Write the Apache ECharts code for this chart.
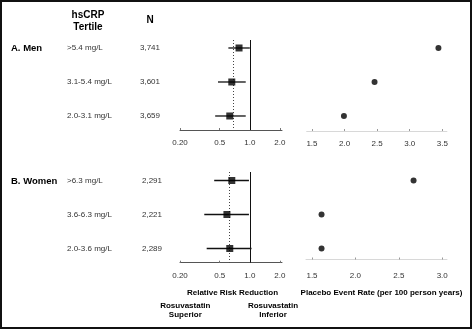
<!DOCTYPE html>
<html><head><meta charset="utf-8">
<script src="https://cdn.jsdelivr.net/npm/echarts@6/dist/echarts.min.js"></script>
<style>html,body{margin:0;padding:0;background:#fff}#c{width:473px;height:329px}</style>
</head><body><div id="c"></div>
<script>
// ---- data ----
const menTertiles = ['>5.4 mg/L', '3.1-5.4 mg/L', '2.0-3.1 mg/L'];
const menN = ['3,741', '3,601', '3,659'];
const menRR = [0.78, 0.66, 0.63];
const menLow = [0.61, 0.48, 0.45];
const menHigh = [1.00, 0.91, 0.91];
const menOverall = 0.69;
const menPlacebo = [3.44, 2.46, 1.99];

const womenTertiles = ['>6.3 mg/L', '3.6-6.3 mg/L', '2.0-3.6 mg/L'];
const womenN = ['2,291', '2,221', '2,289'];
const womenRR = [0.66, 0.59, 0.63];
const womenLow = [0.44, 0.35, 0.37];
const womenHigh = [0.98, 0.98, 1.04];
const womenOverall = 0.62;
const womenPlacebo = [2.67, 1.61, 1.61];

const forestTicks = [0.2, 0.5, 1.0, 2.0];
const forestTickLabels = ['0.20', '0.5', '1.0', '2.0'];
const menPlaceboTicks = [1.5, 2.0, 2.5, 3.0, 3.5];
const womenPlaceboTicks = [1.5, 2.0, 2.5, 3.0];

// ---- chart ----
const FONT = '"Liberation Sans", Arial, Helvetica, sans-serif';
const chart = echarts.init(document.getElementById('c'), null, {renderer: 'canvas'});

function forestLabel(v) {
  let best = 0, bd = Infinity;
  forestTicks.forEach((t, i) => { const d = Math.abs(Math.log(t) - Math.log(v)); if (d < bd) { bd = d; best = i; } });
  return forestTickLabels[best];
}

function forestX(gi) {
  return {
    type: 'log', logBase: 10, gridIndex: gi, min: 0.2, max: 2.1,
    axisLine: {show: true, onZero: false, lineStyle: {color: '#555', width: 1}},
    axisTick: {show: true, inside: true, length: 2, lineStyle: {color: '#777'}, customValues: forestTicks},
    axisLabel: {show: true, customValues: forestTicks, formatter: forestLabel, fontSize: 8, color: '#333', fontFamily: FONT, margin: 9},
    splitLine: {show: false}, minorTick: {show: false}
  };
}
function placeboX(gi, min, max, ticks, margin) {
  return {
    type: 'value', gridIndex: gi, min: min, max: max,
    axisLine: {show: true, onZero: false, lineStyle: {color: '#d8d8d8', width: 1}},
    axisTick: {show: true, inside: true, length: 2, lineStyle: {color: '#999'}, customValues: ticks},
    axisLabel: {show: true, customValues: ticks, formatter: v => v.toFixed(1), fontSize: 8, color: '#333', fontFamily: FONT, margin: margin},
    splitLine: {show: false}
  };
}
function rowY(gi, min, max) {
  return {type: 'value', gridIndex: gi, inverse: true, min: min, max: max, show: false};
}

function ciSeries(ai, low, high) {
  return {
    type: 'custom', xAxisIndex: ai, yAxisIndex: ai, clip: false,
    data: low.map((l, i) => [l, high[i], i]),
    renderItem: (params, api) => {
      const a = api.coord([api.value(0), api.value(2)]);
      const b = api.coord([api.value(1), api.value(2)]);
      return {type: 'line', shape: {x1: a[0], y1: a[1], x2: b[0], y2: b[1]}, style: {stroke: '#111', lineWidth: 1.3}};
    },
    z: 3
  };
}
function rrSeries(ai, rr, overall) {
  return {
    type: 'scatter', xAxisIndex: ai, yAxisIndex: ai, symbol: 'rect', symbolSize: 7,
    itemStyle: {color: '#000'},
    data: rr.map((v, i) => [v, i]),
    z: 5,
    markLine: {
      silent: true, symbol: ['none', 'none'], label: {show: false},
      data: [
        {xAxis: 1.0, lineStyle: {color: '#111', width: 1, type: 'solid'}},
        {xAxis: overall, lineStyle: {color: '#444', width: 1, type: [1, 2]}}
      ]
    }
  };
}
function labelSeries(ai, tertiles, ns, xT, xN) {
  return {
    type: 'custom', xAxisIndex: ai, yAxisIndex: ai, clip: false,
    data: tertiles.map((t, i) => [1, i]),
    renderItem: (params, api) => {
      const p = api.coord([1, api.value(1)]);
      const idx = params.dataIndex;
      return {type: 'group', children: [
        {type: 'text', style: {x: xT, y: p[1], text: tertiles[idx], fill: '#333', font: '8px ' + FONT, textVerticalAlign: 'middle', verticalAlign: 'middle'}},
        {type: 'text', style: {x: xN, y: p[1], text: ns[idx], fill: '#333', font: '8px ' + FONT, textVerticalAlign: 'middle', verticalAlign: 'middle'}}
      ]};
    }
  };
}
function placeboSeries(ai, vals) {
  return {
    type: 'scatter', xAxisIndex: ai, yAxisIndex: ai, symbol: 'circle', symbolSize: 6,
    itemStyle: {color: '#000'}, data: vals.map((v, i) => [v, i]), z: 5
  };
}

function txt(x, y, text, size, bold, align) {
  return {type: 'text', x: x, y: y, style: {text: text, fill: '#000', font: (bold ? 'bold ' : '') + size + 'px ' + FONT, align: align || 'center', verticalAlign: 'middle'}};
}

const option = {
  animation: false,
  backgroundColor: '#fff',
  grid: [
    {left: 180, top: 40, width: 102, height: 90},
    {left: 306.7, top: 40, width: 140.2, height: 91},
    {left: 180, top: 172, width: 102, height: 90.7},
    {left: 306, top: 172, width: 141, height: 87.5}
  ],
  xAxis: [
    forestX(0),
    placeboX(1, 1.419, 3.57, menPlaceboTicks, 9),
    forestX(2),
    placeboX(3, 1.431, 3.055, womenPlaceboTicks, 12)
  ],
  yAxis: [
    rowY(0, -0.235, -0.235 + 90 / 34),
    rowY(1, -0.235, -0.235 + 91 / 34),
    rowY(2, -0.25, -0.25 + 90.7 / 34),
    rowY(3, -0.25, -0.25 + 87.5 / 34)
  ],
  series: [
    ciSeries(0, menLow, menHigh),
    rrSeries(0, menRR, menOverall),
    labelSeries(0, menTertiles, menN, 67, 140),
    placeboSeries(1, menPlacebo),
    ciSeries(2, womenLow, womenHigh),
    rrSeries(2, womenRR, womenOverall),
    labelSeries(2, womenTertiles, womenN, 67, 142),
    placeboSeries(3, womenPlacebo)
  ],
  graphic: [
    {type: 'rect', shape: {x: 1, y: 1, width: 470, height: 327}, style: {fill: 'none', stroke: '#111', lineWidth: 2}},
    txt(88, 15, 'hsCRP', 10, true),
    txt(88, 27.5, 'Tertile', 10, true),
    txt(150, 20, 'N', 10, true),
    txt(11, 48, 'A. Men', 9.5, true, 'left'),
    txt(11, 181.5, 'B. Women', 9.5, true, 'left'),
    txt(232.5, 292.7, 'Relative Risk Reduction', 8, true),
    txt(381.5, 292.7, 'Placebo Event Rate (per 100 person years)', 8, true),
    txt(185.3, 305.7, 'Rosuvastatin', 8, true),
    txt(185.3, 315.2, 'Superior', 8, true),
    txt(273, 305.7, 'Rosuvastatin', 8, true),
    txt(273, 315.2, 'Inferior', 8, true)
  ]
};
chart.setOption(option);
</script>
</body></html>
